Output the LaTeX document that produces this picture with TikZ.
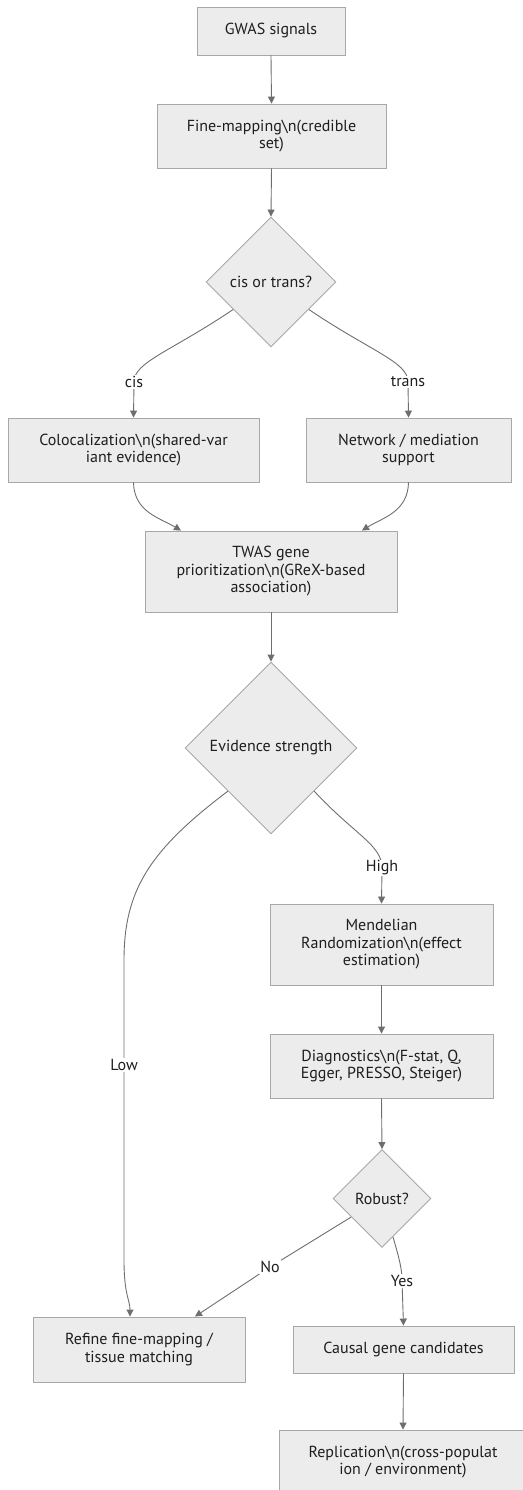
\documentclass[tikz,border=0pt]{standalone}
\usepackage{fontspec}
\setmainfont{PT Sans}
\usetikzlibrary{shapes.geometric,arrows.meta}
\definecolor{boxfill}{HTML}{ECECEC}
\definecolor{boxline}{HTML}{A8A8A8}
\definecolor{edgecol}{HTML}{6E6E6E}
\definecolor{txt}{HTML}{1E1E1E}
\tikzset{
  base/.style={fill=boxfill, draw=boxline, line width=0.9pt, text=txt, align=center,
    font=\fontsize{16}{17.5}\selectfont, inner sep=0pt},
  stepbox/.style={base, rectangle, minimum width=#1},
  decision/.style={base, diamond, minimum width=#1, minimum height=#1},
  conn/.style={draw=edgecol, line width=0.9pt, -{Triangle[length=7pt,width=7pt]}},
  lbl/.style={fill=white, text=txt, font=\fontsize{16}{17}\selectfont, inner sep=1pt}
}
\begin{document}
\begin{tikzpicture}[x=1pt,y=-1pt]
\useasboundingbox (0,0) rectangle (522,1490);
\node[stepbox=148pt, minimum height=48pt] (gwas) at (271,31) {GWAS signals};
\node[stepbox=229pt, minimum height=64pt] (fine) at (271.5,136) {Fine-mapping\textbackslash n(credible\\set)};
\node[decision=130pt] (cis) at (271,282) {cis or trans?};
\node[stepbox=251pt, minimum height=64pt] (coloc) at (133.5,450) {Colocalization\textbackslash n(shared-var\\iant evidence)};
\node[stepbox=205pt, minimum height=64pt] (net) at (408.5,450) {Network / mediation\\support};
\node[stepbox=252pt, minimum height=81pt] (twas) at (271,571.5) {TWAS gene\\prioritization\textbackslash n(GReX-based\\association)};
\node[decision=172pt] (evid) at (271,748) {Evidence strength};
\node[stepbox=223pt, minimum height=81pt] (mr) at (381.5,944.5) {Mendelian\\Randomization\textbackslash n(effect\\estimation)};
\node[stepbox=223pt, minimum height=64pt] (diag) at (381.5,1066) {Diagnostics\textbackslash n(F-stat, Q,\\Egger, PRESSO, Steiger)};
\node[decision=98pt] (rob) at (382,1198.5) {Robust?};
\node[stepbox=212pt, minimum height=65pt] (refine) at (139,1349.5) {Refine fine-mapping /\\tissue matching};
\node[stepbox=221pt, minimum height=47pt] (causal) at (403.5,1349.5) {Causal gene candidates};
\node[stepbox=248pt, minimum height=64pt] (repl) at (403,1462) {Replication\textbackslash n(cross-populat\\ion / environment)};

\draw[conn] (gwas.south) -- (fine.north);
\draw[conn] (fine.south) -- (cis.north);
\draw[conn] (cis.216) .. controls (170,352) and (134,362) .. (134,382) node[lbl]{cis} -- (coloc.north);
\draw[conn] (cis.-36) .. controls (372,352) and (408,362) .. (408,382) node[lbl]{trans} -- (net.north);
\draw[conn] (coloc.south) .. controls (134,512) and (160,518) .. ([xshift=-90pt]twas.north);
\draw[conn] (net.south) .. controls (408,512) and (382,518) .. ([xshift=91pt]twas.north);
\draw[conn] (twas.south) -- (evid.north);
\draw[conn] (evid.south east) .. controls (355,835) and (382,845) .. (382,868) node[lbl]{High} -- (mr.north);
\draw[conn] (evid.south west) .. controls (150,850) and (124,890) .. (124,960) -- (124,1065) node[lbl]{Low} -- (124,1260) .. controls (124,1295) and (130,1300) .. ([xshift=-9pt]refine.north);
\draw[conn] (mr.south) -- (diag.north);
\draw[conn] (diag.south) -- (rob.north);
\draw[conn] (rob.211) -- (270,1267) node[lbl]{No} -- ([xshift=56pt]refine.north);
\draw[conn] (rob.-74) .. controls (399,1258) and (402,1268) .. (402,1281) node[lbl]{Yes} -- (causal.north);
\draw[conn] (causal.south) -- (repl.north);
\end{tikzpicture}
\end{document}
